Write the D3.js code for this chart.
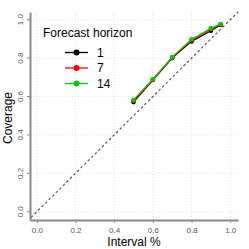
<!DOCTYPE html>
<html>
<head>
<meta charset="utf-8">
<script src="https://cdn.jsdelivr.net/npm/d3@7"></script>
<style>
  body { margin: 0; background: #fff; }
  svg { display: block; font-family: "Liberation Sans", Arial, sans-serif; }
</style>
</head>
<body>
<div id="chart"></div>
<script>
// coverage of prediction intervals by forecast horizon
var intervals = [0.5, 0.6, 0.7, 0.8, 0.9, 0.95];
var horizons = ["1", "7", "14"];
var colors = ["#000000", "#ff0000", "#00cc00"];
var cov1 = [0.571, 0.686, 0.800, 0.887, 0.942, 0.972];
var cov7 = [0.578, 0.688, 0.803, 0.893, 0.950, 0.975];
var cov14 = [0.582, 0.690, 0.805, 0.898, 0.955, 0.977];
var tickVals = [0, 0.2, 0.4, 0.6, 0.8, 1.0];
var series = [cov1, cov7, cov14];

var width = 249, height = 249;
var svg = d3.select("#chart").append("svg")
    .attr("width", width)
    .attr("height", height)

var x = d3.scaleLinear().domain([-0.035, 1.04]).range([30, 238]);
var y = d3.scaleLinear().domain([-0.043, 1.04]).range([220, 12]);

// grid
svg.append("g").selectAll("line").data(tickVals).join("line")
    .attr("x1", d => x(d)).attr("x2", d => x(d))
    .attr("y1", 12).attr("y2", 220)
    .attr("stroke", "#e2e2e2").attr("stroke-dasharray", "1,2")
svg.append("g").selectAll("line").data(tickVals).join("line")
    .attr("y1", d => y(d)).attr("y2", d => y(d))
    .attr("x1", 30).attr("x2", 238)
    .attr("stroke", "#e2e2e2").attr("stroke-dasharray", "1,2")

// diagonal reference line
svg.append("line")
    .attr("x1", x(-0.03)).attr("y1", y(-0.03))
    .attr("x2", x(1.04)).attr("y2", y(1.04))
    .attr("stroke", "#555").attr("stroke-width", 1.2)
    .attr("stroke-dasharray", "2.5,2.5")

// axes
var xAxis = svg.append("g").attr("transform", "translate(0,220)")
    .call(d3.axisBottom(x).tickValues(tickVals).tickFormat(d3.format(".1f")).tickSize(3).tickSizeOuter(0))
var yAxis = svg.append("g").attr("transform", "translate(30,0)")
    .call(d3.axisLeft(y).tickValues(tickVals).tickFormat(d3.format(".1f")).tickSize(3).tickSizeOuter(0))
xAxis.select(".domain").attr("stroke", "#888").attr("stroke-width", 2)
yAxis.select(".domain").attr("stroke", "#888").attr("stroke-width", 2)
svg.selectAll(".tick line").attr("stroke", "#888")
xAxis.selectAll(".tick text").attr("fill", "#555").attr("font-size", 8).attr("dy", "0.9em")
yAxis.selectAll(".tick text").attr("fill", "#555").attr("font-size", 8)
    .attr("text-anchor", "middle")
    .attr("transform", d => "translate(-10," + y(d) + ") rotate(-90)")
    .attr("x", 0).attr("y", 0).attr("dy", "0.32em")
yAxis.selectAll(".tick").attr("transform", null)
yAxis.selectAll(".tick line").attr("transform", d => "translate(0," + y(d) + ")")

// axis titles
svg.append("text").attr("x", 134).attr("y", 246)
    .attr("text-anchor", "middle").attr("font-size", 12).text("Interval %")
svg.append("text").attr("transform", "translate(12,118) rotate(-90)")
    .attr("text-anchor", "middle").attr("font-size", 12).text("Coverage")

// series
var line = d3.line().x((d, i) => x(intervals[i])).y(d => y(d));
series.forEach(function(s, k) {
  svg.append("path").datum(s)
      .attr("d", line)
      .attr("fill", "none")
      .attr("stroke", colors[k])
      .attr("stroke-width", 1.2)
  svg.append("g").selectAll("circle").data(s).join("circle")
      .attr("cx", (d, i) => x(intervals[i]))
      .attr("cy", d => y(d))
      .attr("r", 2.3)
      .attr("fill", colors[k])
})

// legend
svg.append("text").attr("x", 43).attr("y", 37)
    .attr("font-size", 12).text("Forecast horizon")
var leg = svg.append("g").selectAll("g").data(horizons).join("g")
    .attr("transform", (d, i) => "translate(0," + (52.5 + i * 15.5) + ")")
leg.append("line").attr("x1", 65).attr("x2", 88)
    .attr("stroke", (d, i) => colors[i]).attr("stroke-width", 1.3)
leg.append("circle").attr("cx", 76.5).attr("r", 3)
    .attr("fill", (d, i) => colors[i])
leg.append("text").attr("x", 97).attr("dy", "0.36em")
    .attr("font-size", 12).text(d => d)
</script>
</body>
</html>
